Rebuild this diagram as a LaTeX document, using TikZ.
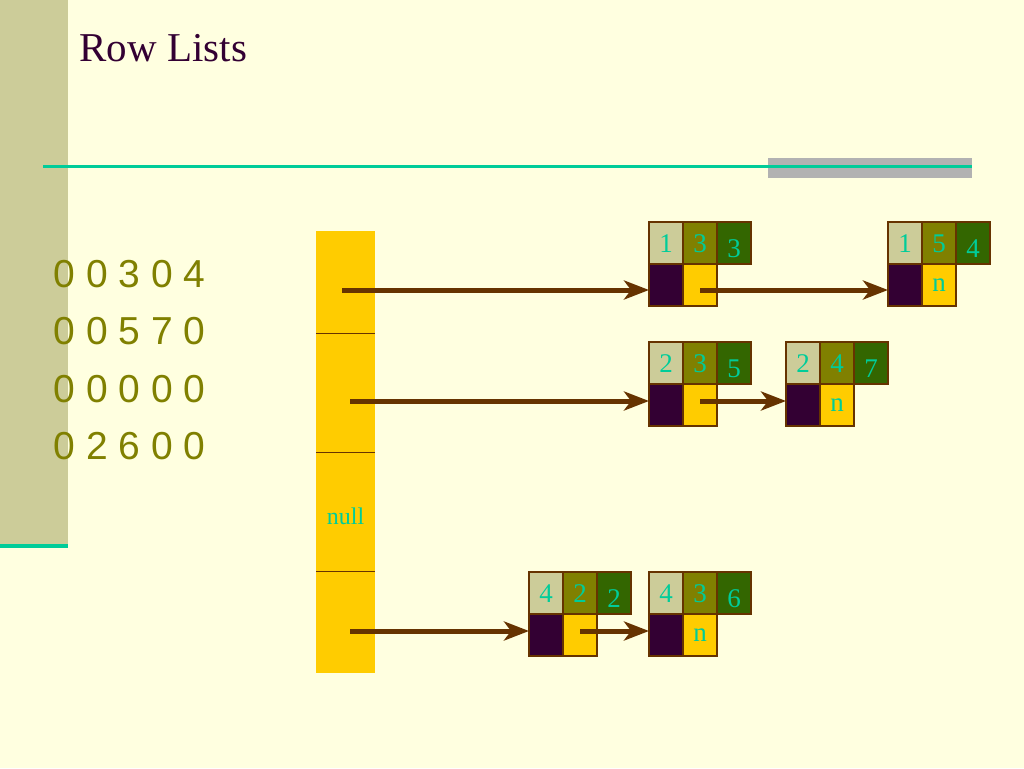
\documentclass[tikz,border=0pt]{standalone}
\usepackage{fontspec}
\setmainfont{Liberation Serif}
\newfontfamily\matrixfont{Liberation Sans}
\usetikzlibrary{positioning,arrows.meta}

\definecolor{pagecream}{HTML}{FFFFE0}
\definecolor{sidekhaki}{HTML}{CCCC99}
\definecolor{ruleteal}{HTML}{00CC99}
\definecolor{rulegray}{HTML}{B2B2B2}
\definecolor{titlepurple}{HTML}{330033}
\definecolor{matolive}{HTML}{808000}
\definecolor{slotyellow}{HTML}{FFCC00}
\definecolor{linkbrown}{HTML}{663300}
\definecolor{celltan}{HTML}{CCCC99}
\definecolor{cellolive}{HTML}{808000}
\definecolor{cellgreen}{HTML}{336600}
\definecolor{cellpurple}{HTML}{330033}
\definecolor{celltext}{HTML}{00CC99}

\tikzset{
  cell/.style={draw=linkbrown, line width=1.2pt, minimum width=34pt, minimum height=42pt,
    inner sep=0pt, outer sep=0pt, text=celltext, font=\fontsize{27}{27}\selectfont},
  rowcell/.style={cell, fill=celltan, text height=18pt, text depth=0pt},
  colcell/.style={cell, fill=cellolive, text height=18pt, text depth=0pt},
  valcell/.style={cell, fill=cellgreen, text height=28pt, text depth=0pt},
  downcell/.style={cell, fill=cellpurple},
  rightcell/.style={cell, fill=slotyellow},
  slot/.style={fill=slotyellow, minimum width=59pt, inner sep=0pt, outer sep=0pt,
    text=celltext, font=\fontsize{24}{24}\selectfont},
  divider/.style={draw=linkbrown, line width=1pt},
  link/.style={draw=linkbrown, line width=5pt, -{Stealth[length=25pt, width=19pt, inset=7pt]}},
  matrow/.style={anchor=base west, text=matolive, font=\matrixfont\fontsize{39}{39}\selectfont}
}

\begin{document}
\begin{tikzpicture}[x=1pt,y=-1pt]
\useasboundingbox (0,0) rectangle (1024,768);
\fill[pagecream] (0,0) rectangle (1024,768);

% slide frame
\fill[sidekhaki] (0,0) rectangle (68,546);
\draw[ruleteal, line width=4pt] (0,546) -- (68,546);
\fill[rulegray] (768,158) rectangle (972,178);
\draw[ruleteal, line width=2.5pt] (43,166.5) -- (972,166.5);
\node[anchor=base west, text=titlepurple, font=\fontsize{41}{41}\selectfont] (title) at (76,62) {Row Lists};

% the matrix
\node[matrow] (m1) at (50,287) {0 0 3 0 4};
\node[matrow] (m2) at (50,344) {0 0 5 7 0};
\node[matrow] (m3) at (50,402) {0 0 0 0 0};
\node[matrow] (m4) at (50,459) {0 2 6 0 0};

% array of row heads
\node[slot, minimum height=102pt] (r1) at (345.5,282) {};
\node[slot, minimum height=119pt, below=0pt of r1] (r2) {};
\node[slot, minimum height=119pt, below=0pt of r2, text height=26pt, text depth=0pt] (r3) {null};
\node[slot, minimum height=102pt, below=0pt of r3] (r4) {};
\draw[divider] (r1.south west) -- (r1.south east);
\draw[divider] (r2.south west) -- (r2.south east);
\draw[divider] (r3.south west) -- (r3.south east);

% row 1
\node[rowcell] (n13r) at (666,243) {1};
\node[colcell, right=0pt of n13r] (n13c) {3};
\node[valcell, right=0pt of n13c] (n13v) {3};
\node[downcell, below=0pt of n13r] (n13d) {};
\node[rightcell, below=0pt of n13c] (n13n) {};

\node[rowcell] (n15r) at (905,243) {1};
\node[colcell, right=0pt of n15r] (n15c) {5};
\node[valcell, right=0pt of n15c] (n15v) {4};
\node[downcell, below=0pt of n15r] (n15d) {};
\node[rightcell, below=0pt of n15c] (n15n) {n};

% row 2
\node[rowcell] (n23r) at (666,363) {2};
\node[colcell, right=0pt of n23r] (n23c) {3};
\node[valcell, right=0pt of n23c] (n23v) {5};
\node[downcell, below=0pt of n23r] (n23d) {};
\node[rightcell, below=0pt of n23c] (n23n) {};

\node[rowcell] (n24r) at (803,363) {2};
\node[colcell, right=0pt of n24r] (n24c) {4};
\node[valcell, right=0pt of n24c] (n24v) {7};
\node[downcell, below=0pt of n24r] (n24d) {};
\node[rightcell, below=0pt of n24c] (n24n) {n};

% row 4
\node[rowcell] (n42r) at (546,593) {4};
\node[colcell, right=0pt of n42r] (n42c) {2};
\node[valcell, right=0pt of n42c] (n42v) {2};
\node[downcell, below=0pt of n42r] (n42d) {};
\node[rightcell, below=0pt of n42c] (n42n) {};

\node[rowcell] (n43r) at (666,593) {4};
\node[colcell, right=0pt of n43r] (n43c) {3};
\node[valcell, right=0pt of n43c] (n43v) {6};
\node[downcell, below=0pt of n43r] (n43d) {};
\node[rightcell, below=0pt of n43c] (n43n) {n};

% links
\coordinate (s1) at ([xshift=-3.5pt,yshift=-8pt]r1.center);
\coordinate (s2) at ([xshift=4.5pt,yshift=-8.5pt]r2.center);
\coordinate (s4) at ([xshift=4.5pt,yshift=-9pt]r4.center);
\draw[link] (s1) -- (s1 -| n13d.west);
\draw[link] (s1 -| n13n.center) -- (s1 -| n15d.west);
\draw[link] (s2) -- (s2 -| n23d.west);
\draw[link] (s2 -| n23n.center) -- (s2 -| n24d.west);
\draw[link] (s4) -- (s4 -| n42d.west);
\draw[link] (s4 -| n42n.center) -- (s4 -| n43d.west);
\end{tikzpicture}
\end{document}
